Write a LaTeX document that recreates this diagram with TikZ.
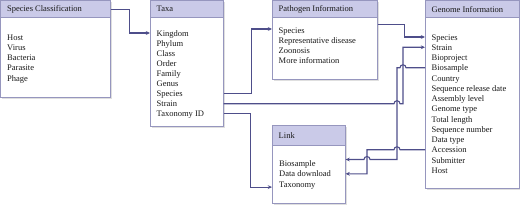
\documentclass[tikz,border=0pt]{standalone}
\usepackage{fontspec}
\setmainfont{Liberation Serif}
\usetikzlibrary{arrows.meta,shadows,calc}
\definecolor{hdrfill}{RGB}{202,202,232}
\definecolor{boxline}{RGB}{150,150,190}
\definecolor{conn}{RGB}{78,78,138}
\definecolor{txt}{RGB}{25,25,25}
\begin{document}
\begin{tikzpicture}[x=1pt,y=1pt,
  panel/.style={draw=boxline, line width=0.6pt, fill=white, anchor=north west, inner sep=0pt,
    drop shadow={shadow xshift=1.5pt, shadow yshift=-1.5pt, opacity=0.25}},
  hdr/.style={draw=boxline, line width=0.6pt, fill=hdrfill, anchor=north west, inner sep=0pt, minimum height=17pt},
  htext/.style={anchor=west, inner sep=0pt, font=\fontsize{8.5}{10}\selectfont, text=txt},
  item/.style={anchor=west, inner sep=0pt, font=\fontsize{8.5}{10}\selectfont, text=txt, text height=6pt, text depth=0pt},
  link/.style={draw=conn, line width=1.1pt},
  arr/.style={link, -{Stealth[length=4.2pt,width=3.8pt]}}
]
\useasboundingbox (0,0) rectangle (520,-204);

% panels
\node[panel, minimum width=109.6pt, minimum height=96.6pt] (SC) at (0.4,-0.4) {};
\node[hdr, minimum width=109.6pt] (SCh) at (SC.north west) {};
\node[htext] (SCt) at ($(SCh.west)+(6.5,0)$) {Species Classification};

\node[panel, minimum width=73pt, minimum height=125.6pt] (T) at (150,-0.4) {};
\node[hdr, minimum width=73pt] (Th) at (T.north west) {};
\node[htext] (Tt) at ($(Th.west)+(6.5,0)$) {Taxa};

\node[panel, minimum width=105pt, minimum height=78.6pt] (P) at (272,-0.4) {};
\node[hdr, minimum width=105pt] (Ph) at (P.north west) {};
\node[htext] (Pt) at ($(Ph.west)+(6.5,0)$) {Pathogen Information};

\node[panel, minimum width=94pt, minimum height=187.6pt] (G) at (425,-0.4) {};
\node[hdr, minimum width=94pt] (Gh) at (G.north west) {};
\node[htext] (Gt) at ($(Gh.west)+(6.5,0)$) {Genome Information};

\node[panel, minimum width=73pt, minimum height=78pt] (L) at (272,-125) {};
\node[hdr, minimum width=73pt, minimum height=20pt] (Lh) at (L.north west) {};
\node[htext] (Lt) at ($(Lh.west)+(6.5,0)$) {Link};

% items
\foreach \t [count=\i] in {Host,Virus,Bacteria,Parasite,Phage}
  \node[item] (sc\i) at (7,{-37-10.3*(\i-1)}) {\t};
\foreach \t [count=\i] in {Kingdom,Phylum,Class,Order,Family,Genus,Species,Strain,Taxonomy ID}
  \node[item] (t\i) at (156.5,{-33-10.1*(\i-1)}) {\t};
\foreach \t [count=\i] in {Species,Representative disease,Zoonosis,More information}
  \node[item] (p\i) at (278.5,{-30-10*(\i-1)}) {\t};
\foreach \t [count=\i] in {Species,Strain,Bioproject,Biosample,Country,Sequence release date,Assembly level,Genome type,Total length,Sequence number,Data type,Accession,Submitter,Host}
  \node[item] (g\i) at (431.5,{-37-10.25*(\i-1)}) {\t};
\foreach \t [count=\i] in {Biosample,Data download,Taxonomy}
  \node[item] (l\i) at (279,{-163-10.8*(\i-1)}) {\t};

% vertical routing lines
\coordinate (va) at (367,0);
\coordinate (vb) at (397,0);
\coordinate (vs) at (403,0);
\coordinate (pout) at ($(P.north east)+(0,-24.1)$);
\coordinate (lb) at ($(L.east |- l1)+(0,3.5)$);
\coordinate (lt) at ($(L.west |- l3)+(0,-2.5)$);

% connectors
\draw[arr] (SCh.east) -- ++(18.5,0) |- (T.west |- t1);
\draw[arr] (T.east |- t7) -- ++(28,0) |- ($(P.west |- p1)+(0,1)$);
\draw[arr] (pout) -- ++(27,0) |- (G.west |- g1);
\draw[arr] (T.east |- t8) -- ($(vb |- t8)+(-3,0)$) arc[start angle=180, end angle=0, radius=3]
  -- (vs |- t8) |- (G.west |- g2);
\draw[arr] (G.west |- g4) -- ($(vs |- g4)+(3,0)$) arc[start angle=0, end angle=180, radius=3]
  -- (vb |- g4) -- (vb |- lb) -- ($(va |- lb)+(3,0)$) arc[start angle=0, end angle=180, radius=3] -- (lb);
\draw[arr] (G.west |- g12) -- ($(vb |- g12)+(3,0)$) arc[start angle=0, end angle=180, radius=3]
  -- (va |- g12) |- (L.east |- l2);
\draw[arr] (T.east |- t9) -- ++(27,0) |- (lt);
\end{tikzpicture}
\end{document}
